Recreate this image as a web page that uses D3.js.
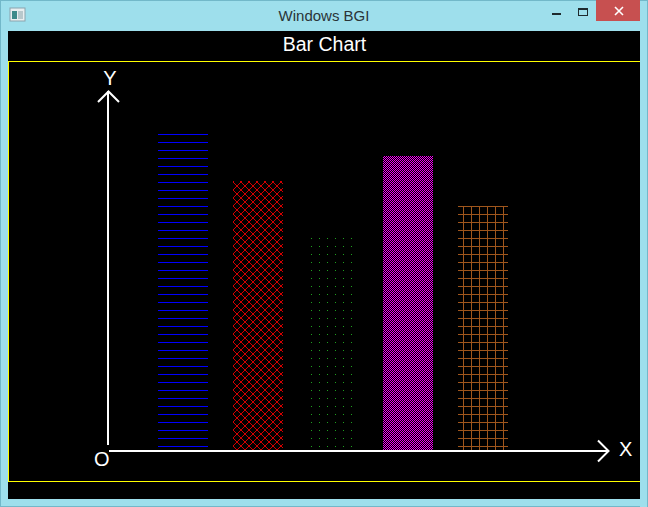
<!DOCTYPE html>
<html>
<head>
<meta charset="utf-8">
<script src="https://cdn.jsdelivr.net/npm/d3@7/dist/d3.min.js"></script>
<style>
html,body{margin:0;padding:0;background:#9edfec;overflow:hidden;}
svg{display:block;}
</style>
</head>
<body>
<svg id="c" width="648" height="507"></svg>
<script>
// ---- data ----
const categories = ["A", "B", "C", "D", "E"];
const values = [316, 269, 214, 294, 244];
const barColors = ["#0000ff", "#d40000", "#1ea01e", "#f000f0", "#a0561c"];
const barPatterns = ["hline", "xhatch", "dots", "checker", "grid"];
const titleText = "Bar Chart";
const windowTitle = "Windows BGI";
const axisLabels = ["X", "Y", "O"];

const svg = d3.select("#c");
const W = 648, H = 507;

// window frame
svg.append("rect").attr("x",0).attr("y",0).attr("width",W).attr("height",H).attr("fill","#9edfec");
svg.append("rect").attr("x",0.5).attr("y",0.5).attr("width",W-1).attr("height",H-1)
  .attr("fill","none").attr("stroke","#72b8c9").attr("stroke-width",1);
// title bar text
svg.append("text").attr("x",324).attr("y",21).attr("text-anchor","middle")
  .attr("font-family","'Liberation Sans', Arial, sans-serif").attr("font-size",15)
  .attr("fill","#2a3438").text(windowTitle);
// app icon
const ic = svg.append("g");
ic.append("rect").attr("x",10).attr("y",8).attr("width",15).attr("height",13).attr("fill","#e8eef0").attr("stroke","#8aa4ad");
ic.append("rect").attr("x",12).attr("y",11).attr("width",5).attr("height",8).attr("fill","#3d8a8a");
ic.append("rect").attr("x",18).attr("y",11).attr("width",5).attr("height",8).attr("fill","#b8c8cc");
// minimize
svg.append("rect").attr("x",552).attr("y",13).attr("width",9).attr("height",2).attr("fill","#1e2a2e");
// maximize
svg.append("rect").attr("x",578.5).attr("y",8.5).attr("width",9).attr("height",7).attr("fill","none").attr("stroke","#1e2a2e");
svg.append("rect").attr("x",578).attr("y",8).attr("width",10).attr("height",2).attr("fill","#1e2a2e");
// close
svg.append("rect").attr("x",596).attr("y",0).attr("width",44).attr("height",21).attr("fill","#c75050");
svg.append("path").attr("d","M615,7 L623,15 M623,7 L615,15").attr("stroke","#ffffff").attr("stroke-width",1.6);

// client area
svg.append("rect").attr("x",8).attr("y",31).attr("width",632).attr("height",468).attr("fill","#000");

// yellow viewport frame
svg.append("rect").attr("x",8.5).attr("y",61.5).attr("width",640).attr("height",420)
  .attr("fill","none").attr("stroke","#ffff00").attr("stroke-width",1).attr("shape-rendering","crispEdges");
// cover right overflow with frame
svg.append("rect").attr("x",640).attr("y",31).attr("width",8).attr("height",476).attr("fill","#9edfec");
svg.append("line").attr("x1",647.5).attr("x2",647.5).attr("y1",0).attr("y2",H).attr("stroke","#72b8c9");

// title
svg.append("text").attr("x",324.5).attr("y",51).attr("text-anchor","middle")
  .attr("font-family","'Liberation Sans', Arial, sans-serif").attr("font-size",19.5)
  .attr("fill","#ffffff").text(titleText);

// ---- patterns ----
const defs = svg.append("defs");
function bitsPattern(id, color, w, h, ox, oy, pixels) {
  const p = defs.append("pattern").attr("id", id).attr("patternUnits","userSpaceOnUse")
    .attr("x", ox).attr("y", oy).attr("width", w).attr("height", h);
  pixels.forEach(([px,py,pw,ph]) => {
    p.append("rect").attr("x",px).attr("y",py).attr("width",pw||1).attr("height",ph||1)
      .attr("fill",color).attr("shape-rendering","crispEdges");
  });
}
const patDefs = {
  hline: (c) => bitsPattern("p_hline", c, 8, 8, 0, 0, [[0,6,8,1]]),
  xhatch: (c) => {
    const px = [];
    for (let i = 0; i < 8; i++) { px.push([i,i]); if (7-i !== i) px.push([7-i,i]); }
    bitsPattern("p_xhatch", c, 8, 8, 5, 2, px);
  },
  dots: (c) => bitsPattern("p_dots", c, 8, 8, 0, 0, [[7,6]]),
  checker: (c) => bitsPattern("p_checker", c, 2, 2, 0, 0, [[0,0],[1,1]]),
  grid: (c) => bitsPattern("p_grid", c, 8, 8, 0, 0, [[0,6,8,1],[7,0,1,8]])
};
barPatterns.forEach((p, i) => patDefs[p](barColors[i]));

// ---- scales ----
const x = d3.scaleBand().domain(categories).range([145.5, 520.5])
  .paddingInner(1/3).paddingOuter(1/6);
const y = d3.scaleLinear().domain([0, 400]).range([450, 50]);

// ---- bars ----
svg.append("g").selectAll("rect").data(values).join("rect")
  .attr("x", (d, i) => x(categories[i]))
  .attr("y", d => y(d))
  .attr("width", x.bandwidth())
  .attr("height", d => y(0) - y(d))
  .attr("fill", (d, i) => "url(#p_" + barPatterns[i] + ")")
  .attr("shape-rendering","crispEdges");

// ---- axes ----
const ax = svg.append("g").attr("stroke","#ffffff").attr("stroke-width",2).attr("fill","none");
ax.append("line").attr("x1",108).attr("x2",108).attr("y1",445).attr("y2",91);
ax.append("path").attr("d","M98,102 L108.5,91.5 L119,102");
ax.append("line").attr("x1",109).attr("x2",609).attr("y1",451).attr("y2",451);
ax.append("path").attr("d","M598,440.5 L608.5,451 L598,461.5");

const lab = svg.append("g").attr("font-family","'Liberation Sans', Arial, sans-serif")
  .attr("font-size",20).attr("fill","#ffffff");
lab.append("text").attr("x",619).attr("y",456).text(axisLabels[0]);
lab.append("text").attr("x",110).attr("y",85).attr("text-anchor","middle").text(axisLabels[1]);
lab.append("text").attr("x",94).attr("y",466).text(axisLabels[2]);
</script>
</body>
</html>
